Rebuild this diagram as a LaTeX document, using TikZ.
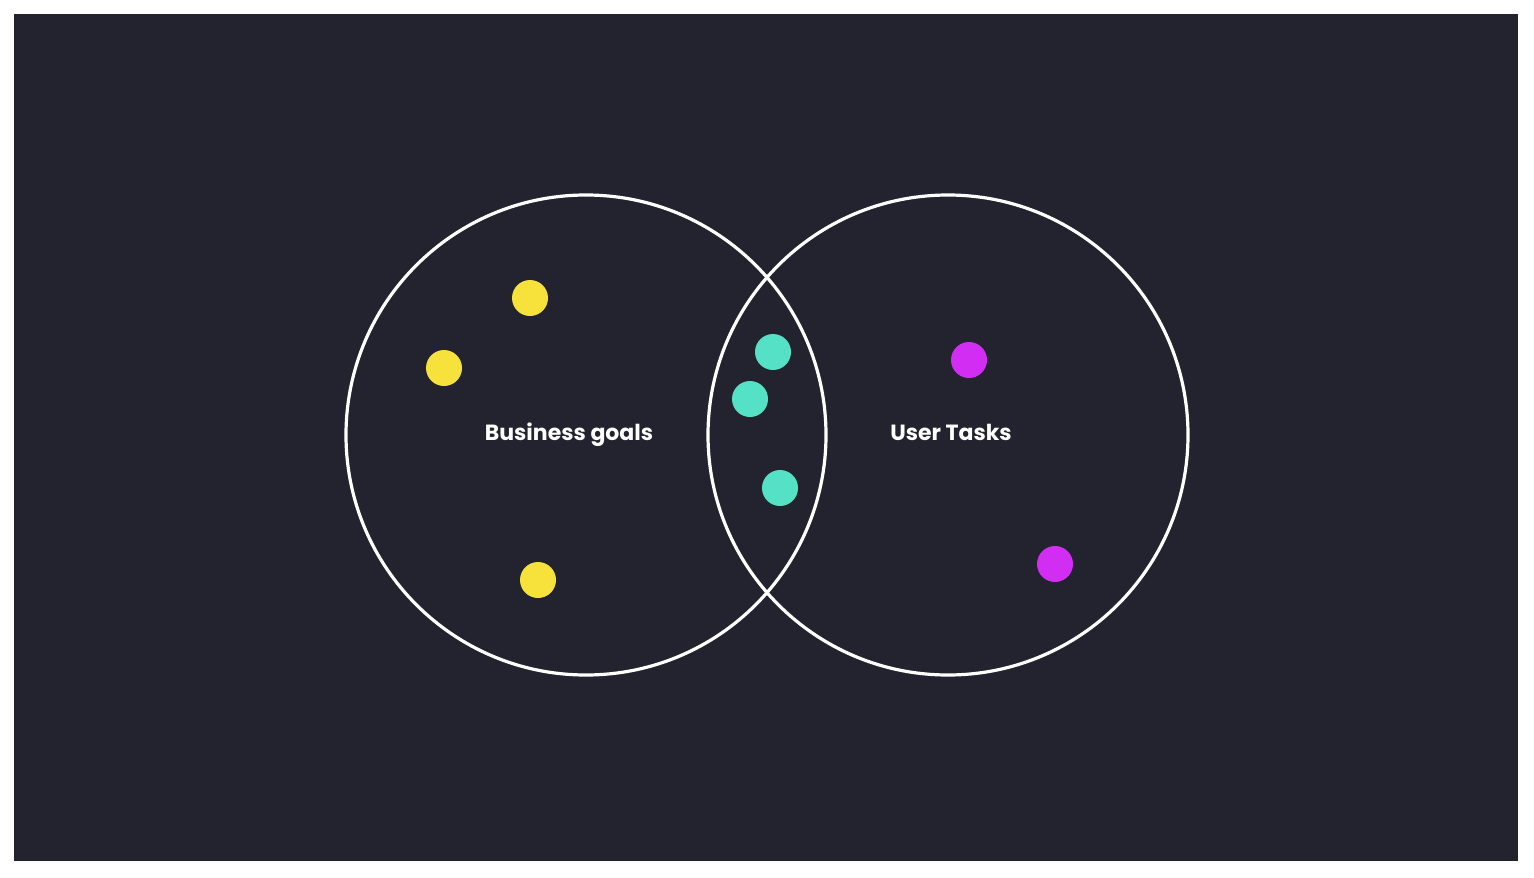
\documentclass[tikz,border=0pt]{standalone}
\usepackage{fontspec}
\setmainfont{Poppins}
\definecolor{bgdark}{HTML}{23232F}
\definecolor{dotyellow}{HTML}{F6E23A}
\definecolor{dotteal}{HTML}{55E1C5}
\definecolor{dotmagenta}{HTML}{D22DF2}
\tikzset{
  ring/.style={circle, draw=white, line width=3.2pt, minimum size=480pt, inner sep=0pt},
  dot/.style={circle, fill=#1, minimum size=36pt, inner sep=0pt},
  lbl/.style={text=white, anchor=base, font=\fontsize{22}{26}\selectfont\bfseries}
}
\begin{document}
\begin{tikzpicture}[x=1pt,y=-1pt]
\useasboundingbox (0,0) rectangle (1534,878);
\fill[white] (0,0) rectangle (1534,878);
\fill[bgdark] (14,14) rectangle (1518,861);
\node[ring] (left) at (586,435) {};
\node[ring] (right) at (948,435) {};
\node[dot=dotyellow] (y1) at (530,298) {};
\node[dot=dotyellow] (y2) at (444,368) {};
\node[dot=dotyellow] (y3) at (538,580) {};
\node[dot=dotteal] (t1) at (773,352) {};
\node[dot=dotteal] (t2) at (750,399) {};
\node[dot=dotteal] (t3) at (780,488) {};
\node[dot=dotmagenta] (m1) at (969,360) {};
\node[dot=dotmagenta] (m2) at (1055,564) {};
\node[lbl] (bg) at (569,440) {Business goals};
\node[lbl] (ut) at (951,440) {User Tasks};
\end{tikzpicture}
\end{document}
